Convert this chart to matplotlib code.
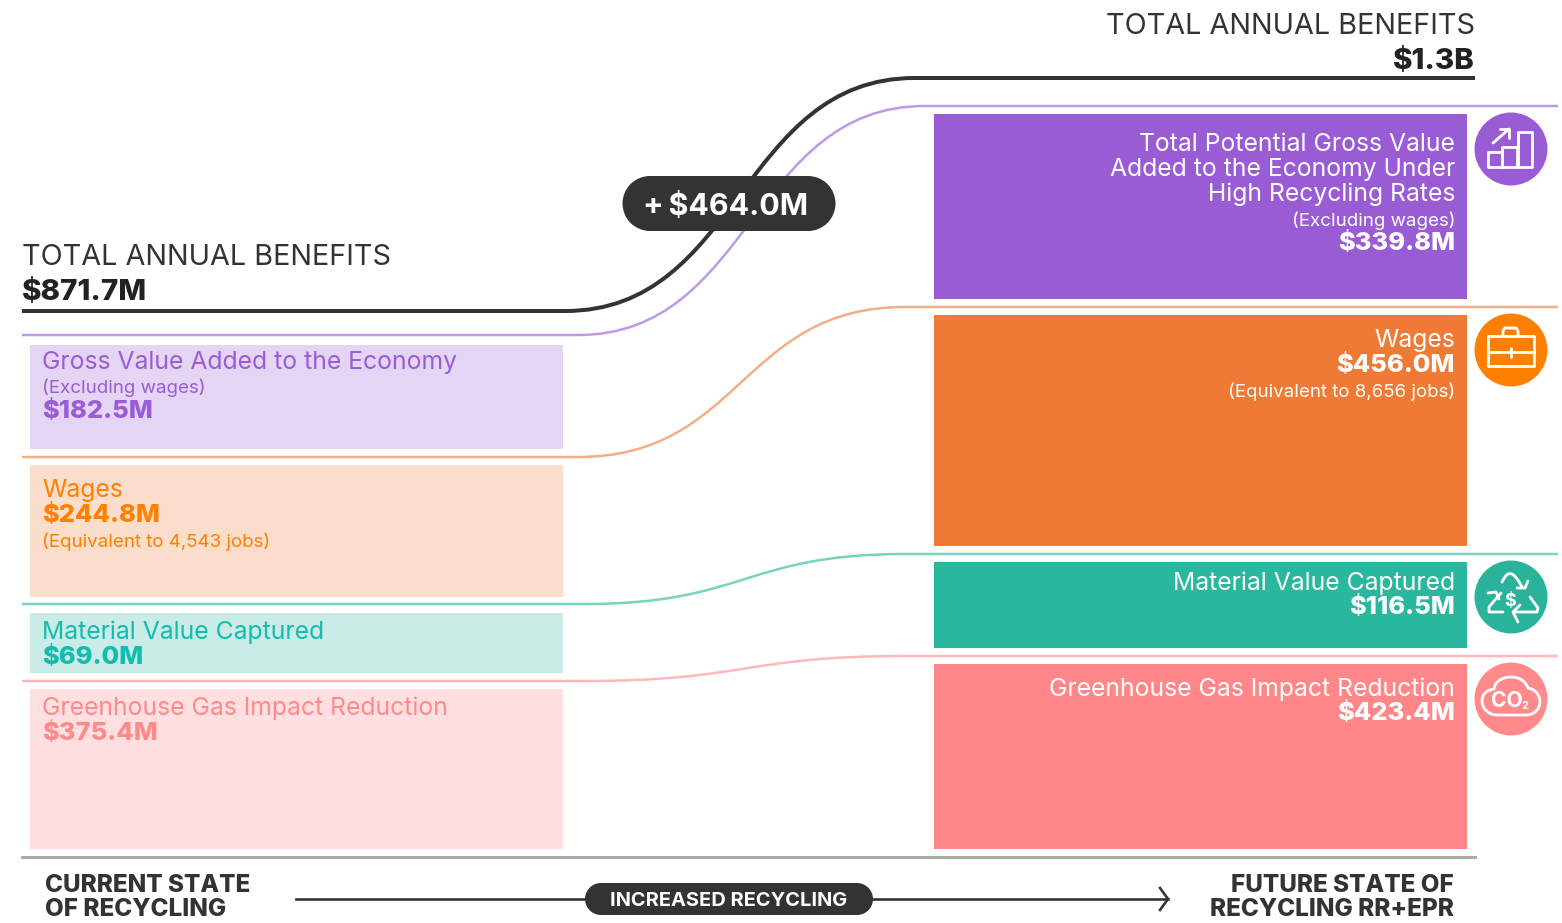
import matplotlib
matplotlib.use("Agg")
import matplotlib.pyplot as plt
import numpy as np
from matplotlib.patches import Circle, PathPatch, Rectangle
from matplotlib.path import Path

plt.rcParams['font.family'] = ['Inter', 'DejaVu Sans']

# ---- data ----
categories = ["Gross Value", "Wages", "Material Value Captured", "Greenhouse Gas Impact Reduction"]
current_values = [182.5, 244.8, 69.0, 375.4]
future_values = [339.8, 456.0, 116.5, 423.4]
current_bar_heights = [104, 132, 60, 160]
future_bar_heights = [185, 231, 86, 185]
current_total = "$871.7M"
future_total = "$1.3B"
gain = "+\u2009$464.0M"
current_jobs = "4,543"
future_jobs = "8,656"

# ---- styles ----
solid = ['#9A5CD5', '#EF7A36', '#29B89D', '#FF8789']
light = ['#E4D5F5', '#FBDDCC', '#C9ECE6', '#FFDFE0']
text_c = ['#9A5CD5', '#FF8000', '#10BDB0', '#FF8A8C']
icon_c = ['#9A5CD5', '#FF7F00', '#2AB39A', '#FF8A8C']
line_c = ['#BD9AE8', '#F4AE85', '#78D3C0', '#FFB8BA']
DARK = '#333333'

fig = plt.figure(figsize=(15.62, 9.23), dpi=100)
ax = fig.add_axes([0, 0, 1, 1])
ax.set_xlim(0, 1562)
ax.set_ylim(923, 0)
ax.axis('off')
PX = 72 / 100


def txt(x, y, s, size, color=DARK, weight='normal', ha='left', **kw):
    return ax.text(x, y, s, fontsize=size * PX, color=color, fontweight=weight,
                   ha=ha, va='baseline', **kw)


def stack(top, heights, gap=16):
    tops = []
    for h in heights:
        tops.append(top)
        top += h + gap
    return tops


left_tops = stack(345, current_bar_heights)
right_tops = stack(114, future_bar_heights)

ax.bar(30, current_bar_heights, bottom=left_tops, width=533, align='edge', color=light, zorder=2)
ax.bar(934, future_bar_heights, bottom=right_tops, width=533, align='edge', color=solid, zorder=2)


def sweep(y0, y1, x0, x1, xs, xe, color, lw):
    k = 0.5 * (x1 - x0)
    verts = [(xs, y0), (x0, y0), (x0 + k, y0), (x1 - k, y1), (x1, y1), (xe, y1)]
    codes = [Path.MOVETO, Path.LINETO, Path.CURVE4, Path.CURVE4, Path.CURVE4, Path.LINETO]
    ax.add_patch(PathPatch(Path(verts, codes), fc='none', ec=color, lw=lw * PX,
                           capstyle='butt', zorder=3))


sweep(335, 106, 578, 925, 22, 1558, line_c[0], 2.5)
sweep(457, 307, 578, 905, 22, 1558, line_c[1], 2.5)
sweep(604, 554, 585, 905, 22, 1558, line_c[2], 2.5)
sweep(681, 656, 585, 905, 22, 1558, line_c[3], 2.5)
sweep(311, 78, 565, 915, 22, 1475, DARK, 4)

# pill
ax.add_patch(Rectangle((650, 176), 158, 55, fc=DARK, ec='none', zorder=5))
ax.add_patch(Circle((650, 203.5), 27.5, fc=DARK, ec='none', zorder=5))
ax.add_patch(Circle((808, 203.5), 27.5, fc=DARK, ec='none', zorder=5))
txt(726, 215, gain, 30.4, 'white', 'bold', ha='center', zorder=6)

# headings
HS = 28.8
txt(22, 265, "TOTAL ANNUAL BENEFITS", HS)
txt(22, 300, current_total, 29.5, '#222222', 'heavy')
txt(1475, 34, "TOTAL ANNUAL BENEFITS", HS, ha='right')
txt(1475, 69, future_total, 29.5, '#222222', 'heavy', ha='right')

# left labels
S, M, B = 24.7, 18.7, 25.5
LX = 42.5
txt(LX, 369, "Gross Value Added to the Economy", S, text_c[0])
txt(LX, 393, "(Excluding wages)", M, text_c[0])
txt(LX, 418, f"${current_values[0]:.1f}M", B, text_c[0], 'heavy')
txt(LX, 497, "Wages", S, text_c[1])
txt(LX, 522, f"${current_values[1]:.1f}M", B, text_c[1], 'heavy')
txt(LX, 547, f"(Equivalent to {current_jobs} jobs)", M, text_c[1])
txt(LX, 639, categories[2], S, text_c[2])
txt(LX, 664, f"${current_values[2]:.1f}M", B, text_c[2], 'heavy')
txt(LX, 715, categories[3], S, text_c[3])
txt(LX, 740, f"${current_values[3]:.1f}M", B, text_c[3], 'heavy')

# right labels
RX = 1455
kw = dict(color='white', ha='right', zorder=4)
txt(RX, 151, "Total Potential Gross Value", S, **kw)
txt(RX, 176, "Added to the Economy Under", S, **kw)
txt(RX, 201, "High Recycling Rates", S, **kw)
txt(RX, 226, "(Excluding wages)", M, **kw)
txt(RX, 250.5, f"${future_values[0]:.1f}M", B, weight='heavy', **kw)
txt(RX, 347, "Wages", S, **kw)
txt(RX, 372, f"${future_values[1]:.1f}M", B, weight='heavy', **kw)
txt(RX, 397, f"(Equivalent to {future_jobs} jobs)", M, **kw)
txt(RX, 590, categories[2], S, **kw)
txt(RX, 614.5, f"${future_values[2]:.1f}M", B, weight='heavy', **kw)
txt(RX, 696, categories[3], S, **kw)
txt(RX, 720.5, f"${future_values[3]:.1f}M", B, weight='heavy', **kw)

# icons
CX = 1511
centers = [149, 350, 597, 699]
for cy, c in zip(centers, icon_c):
    ax.add_patch(Circle((CX, cy), 36.5, fc=c, ec='none', zorder=4))
W = dict(color='white', lw=2.8 * PX, zorder=6, solid_capstyle='round', solid_joinstyle='round')
WP = dict(fc='none', ec='white', lw=2.8 * PX, zorder=6, joinstyle='round')


def poly(pts):
    pts = np.array(pts)
    ax.plot(pts[:, 0], pts[:, 1], **W)


def curve(pts):
    codes = [Path.MOVETO, Path.CURVE4, Path.CURVE4, Path.CURVE4]
    ax.add_patch(PathPatch(Path(pts, codes), capstyle='round', **WP))


# growth chart
for r in [(1488, 152, 14, 15), (1502, 147, 15, 20), (1518, 132, 14, 35)]:
    ax.add_patch(Rectangle((r[0], r[1]), r[2], r[3], **WP))
poly([(1493, 143), (1509, 129)])
poly([(1500, 129), (1509, 129), (1509, 138)])
# briefcase
ax.add_patch(Rectangle((1488, 336), 46, 30, **WP))
poly([(1503, 336), (1503, 331), (1505, 328), (1516, 328), (1518, 331), (1518, 336)])
poly([(1488, 352), (1534, 352)])
poly([(1511, 348), (1511, 357)])
# recycle arrows
curve([(1502, 582), (1508, 570), (1513, 570), (1522, 587)])
poly([(1528, 581), (1525, 588), (1517, 588)])
poly([(1501, 593), (1489, 607), (1489, 612), (1503, 612)])
poly([(1488, 593), (1496, 592), (1499, 599)])
poly([(1530, 597), (1538, 608), (1537, 612), (1514, 612)])
poly([(1520, 605), (1513, 612), (1518, 622)])
txt(1510, 605.5, "$", 18, 'white', 'bold', ha='center', zorder=6)
# cloud
cloud = [(1497, 715), (1488, 715), (1482, 708), (1482, 701), (1482, 694), (1487, 690), (1494, 689),
         (1495, 681), (1503, 677), (1511, 677), (1520, 677), (1526, 682), (1528, 688),
         (1535, 689), (1540, 695), (1540, 702), (1540, 709), (1534, 715), (1526, 715), (1497, 715)]
codes = [Path.MOVETO] + [Path.CURVE4] * 18 + [Path.LINETO]
ax.add_patch(PathPatch(Path(cloud, codes), **WP))
txt(1507, 707, "CO", 21, 'white', 'bold', ha='center', zorder=6)
txt(1525, 709, "2", 11, 'white', 'bold', ha='center', zorder=6)

# footer
ax.plot([22, 1475], [857, 857], color='#ABABA6', lw=3 * PX, zorder=2)
ax.plot([296, 1168], [899, 899], color=DARK, lw=2.6 * PX, zorder=2)
ax.plot([1160, 1168, 1160], [888, 899, 910], color=DARK, lw=2.6 * PX, zorder=2)
ax.add_patch(Rectangle((601, 883), 256, 32, fc=DARK, ec='none', zorder=5))
ax.add_patch(Circle((601, 899), 16, fc=DARK, ec='none', zorder=5))
ax.add_patch(Circle((857, 899), 16, fc=DARK, ec='none', zorder=5))
txt(729, 906, "INCREASED RECYCLING", 20, 'white', 'bold', ha='center', zorder=6)
txt(45, 892.5, "CURRENT STATE", 24.3, DARK, 'heavy')
txt(45, 916, "OF RECYCLING", 24.3, DARK, 'heavy')
txt(1454, 892.5, "FUTURE STATE OF", 24.3, DARK, 'heavy', ha='right')
txt(1454, 916, "RECYCLING RR+EPR", 24.3, DARK, 'heavy', ha='right')

fig.savefig("out.png", dpi=100, facecolor='white')
